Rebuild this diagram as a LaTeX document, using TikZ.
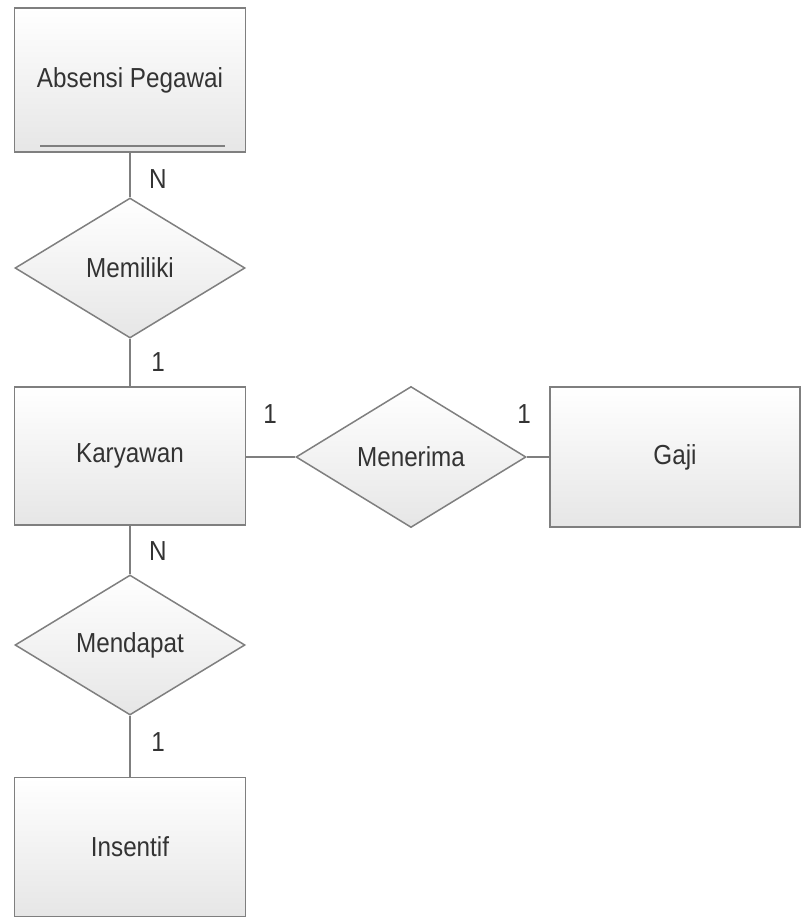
\documentclass[tikz,border=0pt]{standalone}
\usepackage{fontspec}
\usepackage{graphicx}
\setmainfont{Liberation Sans}
\usetikzlibrary{shapes.geometric}
\definecolor{edgegray}{HTML}{7F7F7F}
\definecolor{textgray}{HTML}{333333}
\definecolor{shadegray}{HTML}{E6E6E6}
\newcommand{\erfont}{\fontsize{25}{28}\selectfont}
% labels are set slightly tall and a little below the shape centre
\newcommand{\erlabel}[1]{\raisebox{-4pt}{\scalebox{0.97}[1.1]{#1}}}
\begin{document}
\begin{tikzpicture}[x=1pt,y=-1pt,
  entity/.style={draw=edgegray, line width=1.5pt, top color=white, bottom color=shadegray,
    minimum width=231pt, minimum height=140pt, inner sep=0pt, font=\erfont, text=textgray},
  relation/.style={diamond, draw=edgegray, line width=1.5pt, top color=white, bottom color=shadegray,
    minimum width=230pt, minimum height=140pt, inner sep=0pt, aspect=1.64, font=\erfont, text=textgray},
  link/.style={draw=edgegray, line width=1.5pt},
  card/.style={font=\erfont, text=textgray, inner sep=0pt}]
\useasboundingbox (0,0) rectangle (801,918);
% entities
\node[entity, minimum height=144pt] (absensi) at (130,80) {\erlabel{Absensi Pegawai}};
\draw[edgegray, line width=2pt] (40,146) -- (225,146);
\node[entity, minimum height=138pt] (karyawan) at (130,456) {\erlabel{Karyawan}};
\node[entity, minimum width=250pt] (gaji) at (675,457) {\erlabel{Gaji}};
\node[entity, minimum height=139pt] (insentif) at (130,847) {\erlabel{Insentif}};
% relationships
\node[relation] (memiliki) at (130,268) {\erlabel{Memiliki}};
\node[relation, minimum height=141pt] (menerima) at (411,457) {\erlabel{Menerima}};
\node[relation] (mendapat) at (130,645) {\erlabel{Mendapat}};
% connectors
\draw[link] (absensi.south) -- (memiliki.north);
\draw[link] (memiliki.south) -- (karyawan.north);
\draw[link] (karyawan.east |- menerima.west) -- (menerima.west);
\draw[link] (menerima.east) -- (gaji.west |- menerima.east);
\draw[link] (karyawan.south) -- (mendapat.north);
\draw[link] (mendapat.south) -- (insentif.north);
% cardinalities
\node[card] (c1) at (158,179) {\erlabel{N}};
\node[card] (c2) at (158,362) {\erlabel{1}};
\node[card] (c3) at (270,414) {\erlabel{1}};
\node[card] (c4) at (524,414) {\erlabel{1}};
\node[card] (c5) at (158,551) {\erlabel{N}};
\node[card] (c6) at (158,742) {\erlabel{1}};
\end{tikzpicture}
\end{document}
